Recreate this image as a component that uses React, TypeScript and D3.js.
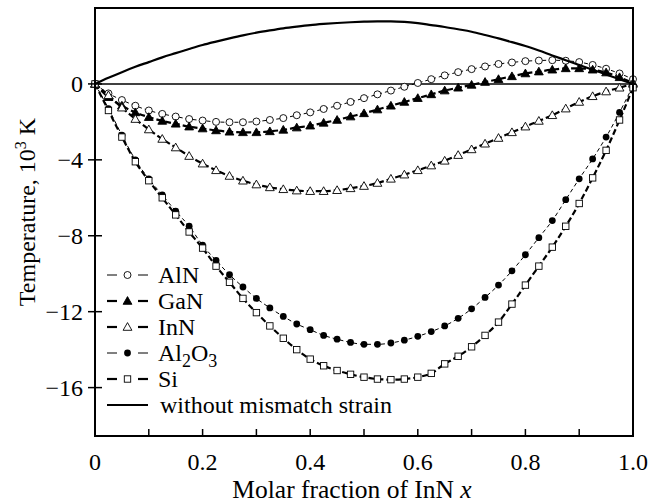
import React from "react";
import * as d3 from "d3";

const xs = [0, 0.025, 0.05, 0.075, 0.1, 0.125, 0.15, 0.175, 0.2, 0.225, 0.25, 0.275, 0.3, 0.325, 0.35, 0.375, 0.4, 0.425, 0.45, 0.475, 0.5, 0.525, 0.55, 0.575, 0.6, 0.625, 0.65, 0.675, 0.7, 0.725, 0.75, 0.775, 0.8, 0.825, 0.85, 0.875, 0.9, 0.925, 0.95, 0.975, 1.0];

const alnValues = [0, -0.5, -0.85, -1.15, -1.4, -1.58, -1.72, -1.85, -1.93, -2.0, -2.02, -2.02, -1.98, -1.9, -1.8, -1.65, -1.5, -1.32, -1.15, -0.95, -0.75, -0.55, -0.35, -0.15, 0.05, 0.25, 0.45, 0.62, 0.78, 0.92, 1.05, 1.13, 1.2, 1.23, 1.25, 1.22, 1.15, 1.0, 0.8, 0.55, 0.25];
const ganValues = [0, -0.7, -1.15, -1.5, -1.75, -1.95, -2.1, -2.25, -2.35, -2.45, -2.52, -2.55, -2.55, -2.5, -2.42, -2.3, -2.2, -2.05, -1.9, -1.72, -1.55, -1.35, -1.15, -0.95, -0.75, -0.55, -0.35, -0.2, -0.05, 0.1, 0.25, 0.4, 0.55, 0.65, 0.75, 0.82, 0.82, 0.75, 0.6, 0.35, 0.05];
const innValues = [0, -0.6, -1.25, -1.85, -2.4, -2.9, -3.35, -3.8, -4.2, -4.55, -4.85, -5.1, -5.3, -5.45, -5.55, -5.62, -5.65, -5.65, -5.6, -5.5, -5.38, -5.22, -5.0, -4.78, -4.55, -4.3, -4.05, -3.75, -3.45, -3.15, -2.85, -2.55, -2.25, -1.95, -1.65, -1.3, -0.95, -0.65, -0.4, -0.2, 0];
const al2o3Values = [0, -1.3, -2.7, -4.0, -5.0, -5.85, -6.7, -7.5, -8.5, -9.3, -10.05, -10.7, -11.3, -11.8, -12.25, -12.65, -12.95, -13.25, -13.45, -13.62, -13.72, -13.72, -13.65, -13.5, -13.3, -13.05, -12.75, -12.35, -11.85, -11.25, -10.6, -9.85, -9.0, -8.1, -7.2, -6.1, -5.0, -3.95, -2.8, -1.5, -0.1];
const siValues = [0, -1.4, -2.8, -4.1, -5.1, -6.0, -6.9, -7.8, -8.65, -9.6, -10.45, -11.3, -12.05, -12.75, -13.4, -14.0, -14.5, -14.85, -15.1, -15.3, -15.45, -15.55, -15.58, -15.55, -15.45, -15.25, -14.75, -14.35, -13.85, -13.25, -12.55, -11.6, -10.6, -9.6, -8.6, -7.5, -6.3, -4.95, -3.5, -1.9, -0.2];
const noStrainValues = [0, 0.32, 0.62, 0.9, 1.15, 1.4, 1.62, 1.84, 2.05, 2.23, 2.4, 2.56, 2.7, 2.82, 2.93, 3.02, 3.1, 3.16, 3.21, 3.25, 3.28, 3.3, 3.3, 3.27, 3.2, 3.1, 3.0, 2.88, 2.75, 2.58, 2.4, 2.2, 2.0, 1.76, 1.5, 1.25, 1.0, 0.75, 0.5, 0.25, 0];

const xTicks = [0, 0.1, 0.2, 0.3, 0.4, 0.5, 0.6, 0.7, 0.8, 0.9, 1.0];
const xTickLabels = ["0", "", "0.2", "", "0.4", "", "0.6", "", "0.8", "", "1.0"];
const yTicks = [0, -4, -8, -12, -16];
const yTickLabels = ["0", "\u22124", "\u22128", "\u221212", "\u221216"];

type Marker = "circle" | "triangle" | "square";
const series = [
  { name: "AlN", values: alnValues, marker: "circle" as Marker, filled: false, width: 1, dash: "4,3" },
  { name: "GaN", values: ganValues, marker: "triangle" as Marker, filled: true, width: 2.2, dash: "6,3" },
  { name: "InN", values: innValues, marker: "triangle" as Marker, filled: false, width: 2.2, dash: "6,3" },
  { name: "Al2O3", values: al2o3Values, marker: "circle" as Marker, filled: true, width: 1, dash: "4,3" },
  { name: "Si", values: siValues, marker: "square" as Marker, filled: false, width: 2.2, dash: "6,3" },
];

const W = 650, H = 504;
const M = { left: 95, right: 633, top: 8, bottom: 436 };
const FONT = "Liberation Serif, Times New Roman, DejaVu Serif, serif";
const TS = { fontFamily: FONT };

function MarkerShape({ type, filled, x, y }: { type: Marker; filled: boolean; x: number; y: number }) {
  const fill = filled ? "#000" : "#fff";
  if (type === "circle") {
    return <circle cx={x} cy={y} r={filled ? 3.4 : 3.5} fill={fill} stroke="#000" strokeWidth={filled ? 0 : 0.9} />;
  }
  if (type === "triangle") {
    const s = 4.4;
    const p = `${x},${y - s} ${x + s},${y + s * 0.75} ${x - s},${y + s * 0.75}`;
    return <polygon points={p} fill={fill} stroke="#000" strokeWidth={0.9} />;
  }
  const s = 3.2;
  return <rect x={x - s} y={y - s} width={2 * s} height={2 * s} fill={fill} stroke="#000" strokeWidth={0.9} />;
}

export default function App() {
  const x = d3.scaleLinear().domain([0, 1]).range([M.left, M.right]);
  const y = d3.scaleLinear().domain([-18.55, 4]).range([M.bottom, M.top]);
  const line = d3
    .line<number>()
    .x((_, i) => x(xs[i]))
    .y((v) => y(v))
    .curve(d3.curveMonotoneX);

  const legendY0 = 275;
  const legendStep = 26;

  return (
    <svg width={W} height={H} style={{ position: "absolute", left: 0, top: 0, background: "#fff", fontFamily: FONT }}>
      <rect x={0} y={0} width={W} height={H} fill="#fff" />
      <line x1={x(0)} x2={x(1)} y1={y(0)} y2={y(0)} stroke="#000" strokeWidth={1.5} />

      {series.map((s) => (
        <path key={s.name} d={line(s.values) || ""} fill="none" stroke="#000" strokeWidth={s.width} strokeDasharray={s.dash} />
      ))}
      {series.map((s) => (
        <g key={s.name + "m"}>
          {s.values.map((v, i) => (
            <MarkerShape key={i} type={s.marker} filled={s.filled} x={x(xs[i])} y={y(v)} />
          ))}
        </g>
      ))}
      <path d={line(noStrainValues) || ""} fill="none" stroke="#000" strokeWidth={2.2} />

      <rect x={M.left} y={M.top} width={M.right - M.left} height={M.bottom - M.top} fill="none" stroke="#000" strokeWidth={2} />

      <g fill="#000">
        {xTicks.map((t, i) => (
          <g key={"xt" + i}>
            <line x1={x(t)} x2={x(t)} y1={M.bottom} y2={M.bottom - 7} stroke="#000" strokeWidth={1.5} />
            {xTickLabels[i] && (
              <text x={x(t)} y={470} textAnchor="middle" fontSize={24} fill="#000" style={TS}>
                {xTickLabels[i]}
              </text>
            )}
          </g>
        ))}
        {yTicks.map((t, i) => (
          <g key={"yt" + i}>
            <line x1={M.left - 7} x2={M.left + 7} y1={y(t)} y2={y(t)} stroke="#000" strokeWidth={1.5} />
            <text x={M.left - 12} y={y(t) + 8} textAnchor="end" fontSize={24} fill="#000" style={TS}>
              {yTickLabels[i]}
            </text>
          </g>
        ))}

        <text x={352} y={498} textAnchor="middle" fontSize={25.5} fill="#000" style={TS}>
          Molar fraction of InN <tspan fontStyle="italic">x</tspan>
        </text>
        <text transform={`translate(35,212) rotate(-90)`} textAnchor="middle" fontSize={24} fill="#000" style={TS}>
          Temperature, 10
          <tspan dy={-9} fontSize={16}>3</tspan>
          <tspan dy={9}> K</tspan>
        </text>

        {series.map((s, i) => {
          const ly = legendY0 + i * legendStep;
          return (
            <g key={"lg" + s.name}>
              <line x1={107} x2={117} y1={ly} y2={ly} stroke="#000" strokeWidth={s.width} />
              <line x1={138} x2={148} y1={ly} y2={ly} stroke="#000" strokeWidth={s.width} />
              <MarkerShape type={s.marker} filled={s.filled} x={127.5} y={ly} />
              <text x={158} y={ly + 8} fontSize={24} fill="#000" style={TS}>
                {s.name === "Al2O3" ? (
                  <>
                    Al<tspan dy={6} fontSize={18}>2</tspan>
                    <tspan dy={-6}>O</tspan>
                    <tspan dy={6} fontSize={18}>3</tspan>
                  </>
                ) : (
                  s.name
                )}
              </text>
            </g>
          );
        })}
        <line x1={107} x2={148} y1={legendY0 + 5 * legendStep} y2={legendY0 + 5 * legendStep} stroke="#000" strokeWidth={2} />
        <text x={160} y={legendY0 + 5 * legendStep + 8} fontSize={24} fill="#000" style={TS}>
          without mismatch strain
        </text>
      </g>
    </svg>
  );
}
